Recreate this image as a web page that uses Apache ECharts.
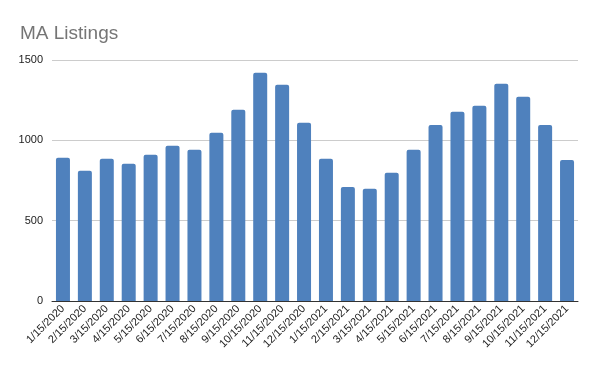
<!DOCTYPE html>
<html><head><meta charset="utf-8">
<script src="https://cdn.jsdelivr.net/npm/echarts@6/dist/echarts.min.js"></script>
<style>html,body{margin:0;padding:0;background:#fff}#c{width:600px;height:371px}</style>
</head><body><div id="c"></div>
<script>
const categories = ["1/15/2020","2/15/2020","3/15/2020","4/15/2020","5/15/2020","6/15/2020","7/15/2020","8/15/2020","9/15/2020","10/15/2020","11/15/2020","12/15/2020","1/15/2021","2/15/2021","3/15/2021","4/15/2021","5/15/2021","6/15/2021","7/15/2021","8/15/2021","9/15/2021","10/15/2021","11/15/2021","12/15/2021"];
const listings = [891,810,885,854,910,966,941,1047,1190,1420,1346,1109,885,710,698,798,941,1096,1178,1215,1352,1271,1096,878];
const yTicks = {min:0, max:1500, interval:500};
const chart = echarts.init(document.getElementById('c'), null, {renderer:'canvas'});
chart.setOption({
  animation:false,
  title:{text:'MA Listings', left:15, top:19, textStyle:{fontFamily:'Arial, Liberation Sans', fontSize:19, fontWeight:'normal', color:'#757575'}},
  grid:{left:52, right:22, top:60, bottom:70},
  xAxis:{type:'category', data:categories,
    axisLine:{lineStyle:{color:'#333', width:1}},
    axisTick:{show:false},
    axisLabel:{rotate:45, interval:0, fontFamily:'Arial, Liberation Sans', fontSize:11, color:'#222', margin:6}},
  yAxis:{type:'value', min:yTicks.min, max:yTicks.max, interval:yTicks.interval,
    axisLine:{show:false}, axisTick:{show:false},
    splitLine:{lineStyle:{color:'#cccccc'}},
    axisLabel:{formatter:function(v){return String(v);}, fontFamily:'Arial, Liberation Sans', fontSize:11, color:'#222', margin:9}},
  series:[{type:'bar', data:listings, barWidth:14,
    itemStyle:{color:'#4f81bd', borderRadius:[2,2,0,0]}}]
});
</script></body></html>
